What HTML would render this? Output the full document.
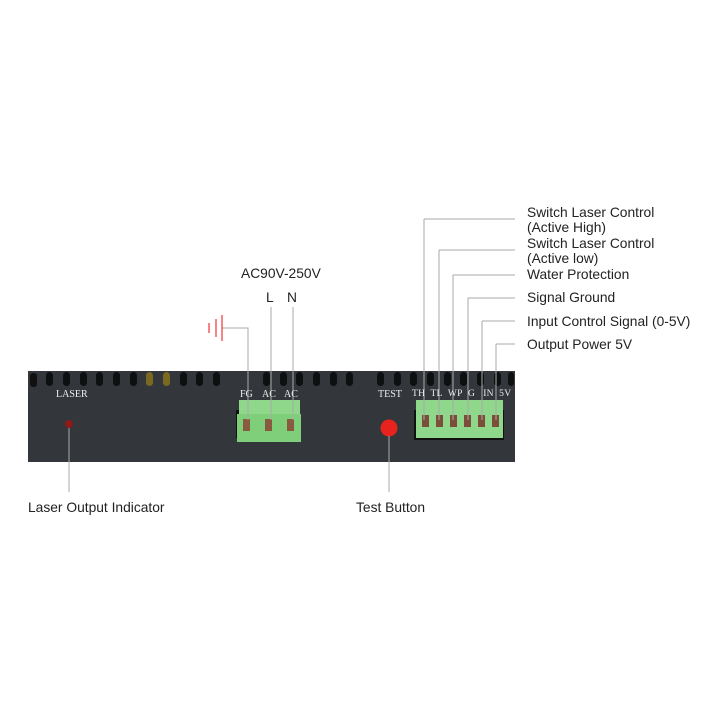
<!DOCTYPE html>
<html><head><style>
body{margin:0;width:720px;height:720px;background:#fff;position:relative;overflow:hidden;font-family:"Liberation Sans",sans-serif;}
.t{position:absolute;font-size:13.8px;color:#222;white-space:nowrap;line-height:15px;}
.p{position:absolute;font-family:"Liberation Serif",serif;font-size:10px;color:#eee;}
</style></head><body>
<svg width="720" height="720" style="position:absolute;left:0;top:0">
<rect x="28" y="371" width="487" height="91" fill="#33373b"/>
<g fill="#111">
<rect x="30" y="373" width="7" height="14" rx="3"/>
</g>
<g fill="#0e0f10">
<rect x="46" y="372" width="7" height="14" rx="3.5"/><rect x="63" y="372" width="7" height="14" rx="3.5"/><rect x="80" y="372" width="7" height="14" rx="3.5"/><rect x="96" y="372" width="7" height="14" rx="3.5"/><rect x="113" y="372" width="7" height="14" rx="3.5"/><rect x="130" y="372" width="7" height="14" rx="3.5"/><rect x="146" y="372" width="7" height="14" rx="3.5" fill="#7a6a20"/><rect x="163" y="372" width="7" height="14" rx="3.5" fill="#7a6a20"/><rect x="180" y="372" width="7" height="14" rx="3.5"/><rect x="196" y="372" width="7" height="14" rx="3.5"/><rect x="213" y="372" width="7" height="14" rx="3.5"/><rect x="263" y="372" width="7" height="14" rx="3.5"/><rect x="280" y="372" width="7" height="14" rx="3.5"/><rect x="296" y="372" width="7" height="14" rx="3.5"/><rect x="313" y="372" width="7" height="14" rx="3.5"/><rect x="330" y="372" width="7" height="14" rx="3.5"/><rect x="346" y="372" width="7" height="14" rx="3.5"/><rect x="377" y="372" width="7" height="14" rx="3.5"/><rect x="394" y="372" width="7" height="14" rx="3.5"/><rect x="410" y="372" width="7" height="14" rx="3.5"/><rect x="427" y="372" width="7" height="14" rx="3.5"/><rect x="444" y="372" width="7" height="14" rx="3.5"/><rect x="460" y="372" width="7" height="14" rx="3.5"/><rect x="477" y="372" width="7" height="14" rx="3.5"/><rect x="494" y="372" width="7" height="14" rx="3.5"/><rect x="508" y="372" width="6" height="14" rx="3"/>
</g>
<rect x="236" y="410" width="48" height="28" fill="#111"/>
<rect x="239" y="400" width="61" height="42" fill="#8fd78a"/>
<rect x="237" y="414" width="64" height="28" fill="#7fcf7a"/>
<g fill="#8a5a40"><rect x="243" y="419" width="7" height="12"/><rect x="265" y="419" width="7" height="12"/><rect x="287" y="419" width="7" height="12"/></g>
<rect x="414" y="410" width="90" height="30" fill="#111"/>
<rect x="416" y="400" width="87" height="38" fill="#8fd78a"/>
<g fill="#7a4e38"><rect x="422" y="415" width="7" height="12"/><rect x="436" y="415" width="7" height="12"/><rect x="450" y="415" width="7" height="12"/><rect x="464" y="415" width="7" height="12"/><rect x="478" y="415" width="7" height="12"/><rect x="492" y="415" width="7" height="12"/></g>
<circle cx="69" cy="424" r="4" fill="#8e1a1a"/>
<circle cx="389" cy="428" r="8.5" fill="#e8231e"/>
<g stroke="#aaa" stroke-width="1" fill="none">
<path d="M222 328H248V420M271 307V420M293 307V420"/>
<path d="M424 219H515M424 219V420M439 250H515M439 250V420M453 275H515M453 275V420M468 298H515M468 298V420M482 321H515M482 321V420M496 344H515M496 344V420"/>
<path d="M69 428V492M389 436V492"/>
</g>
<g stroke="#e33" stroke-width="1.2"><path d="M209 323V333M216 319V337"/></g>
<path d="M222 315V341" stroke="#e33" stroke-width="1.2"/>
</svg>
<div class="p" style="left:56px;top:389px">LASER</div>
<div class="p" style="left:240px;top:389px">FG</div>
<div class="p" style="left:262px;top:389px">AC</div>
<div class="p" style="left:284px;top:389px">AC</div>
<div class="p" style="left:378px;top:389px">TEST</div>
<div class="p" style="left:412px;top:389px;font-size:9.5px;letter-spacing:0.3px">TH&nbsp; TL&nbsp; WP&nbsp; G&nbsp;&nbsp; IN&nbsp; 5V</div>
<div class="t" style="left:241px;top:266px">AC90V-250V</div>
<div class="t" style="left:266px;top:290px">L</div>
<div class="t" style="left:287px;top:290px">N</div>
<div class="t" style="left:527px;top:205px">Switch Laser Control<br>(Active High)</div>
<div class="t" style="left:527px;top:236px">Switch Laser Control<br>(Active low)</div>
<div class="t" style="left:527px;top:267px">Water Protection</div>
<div class="t" style="left:527px;top:290px">Signal Ground</div>
<div class="t" style="left:527px;top:314px">Input Control Signal (0-5V)</div>
<div class="t" style="left:527px;top:337px">Output Power 5V</div>
<div class="t" style="left:28px;top:500px">Laser Output Indicator</div>
<div class="t" style="left:356px;top:500px">Test Button</div>
</body></html>
